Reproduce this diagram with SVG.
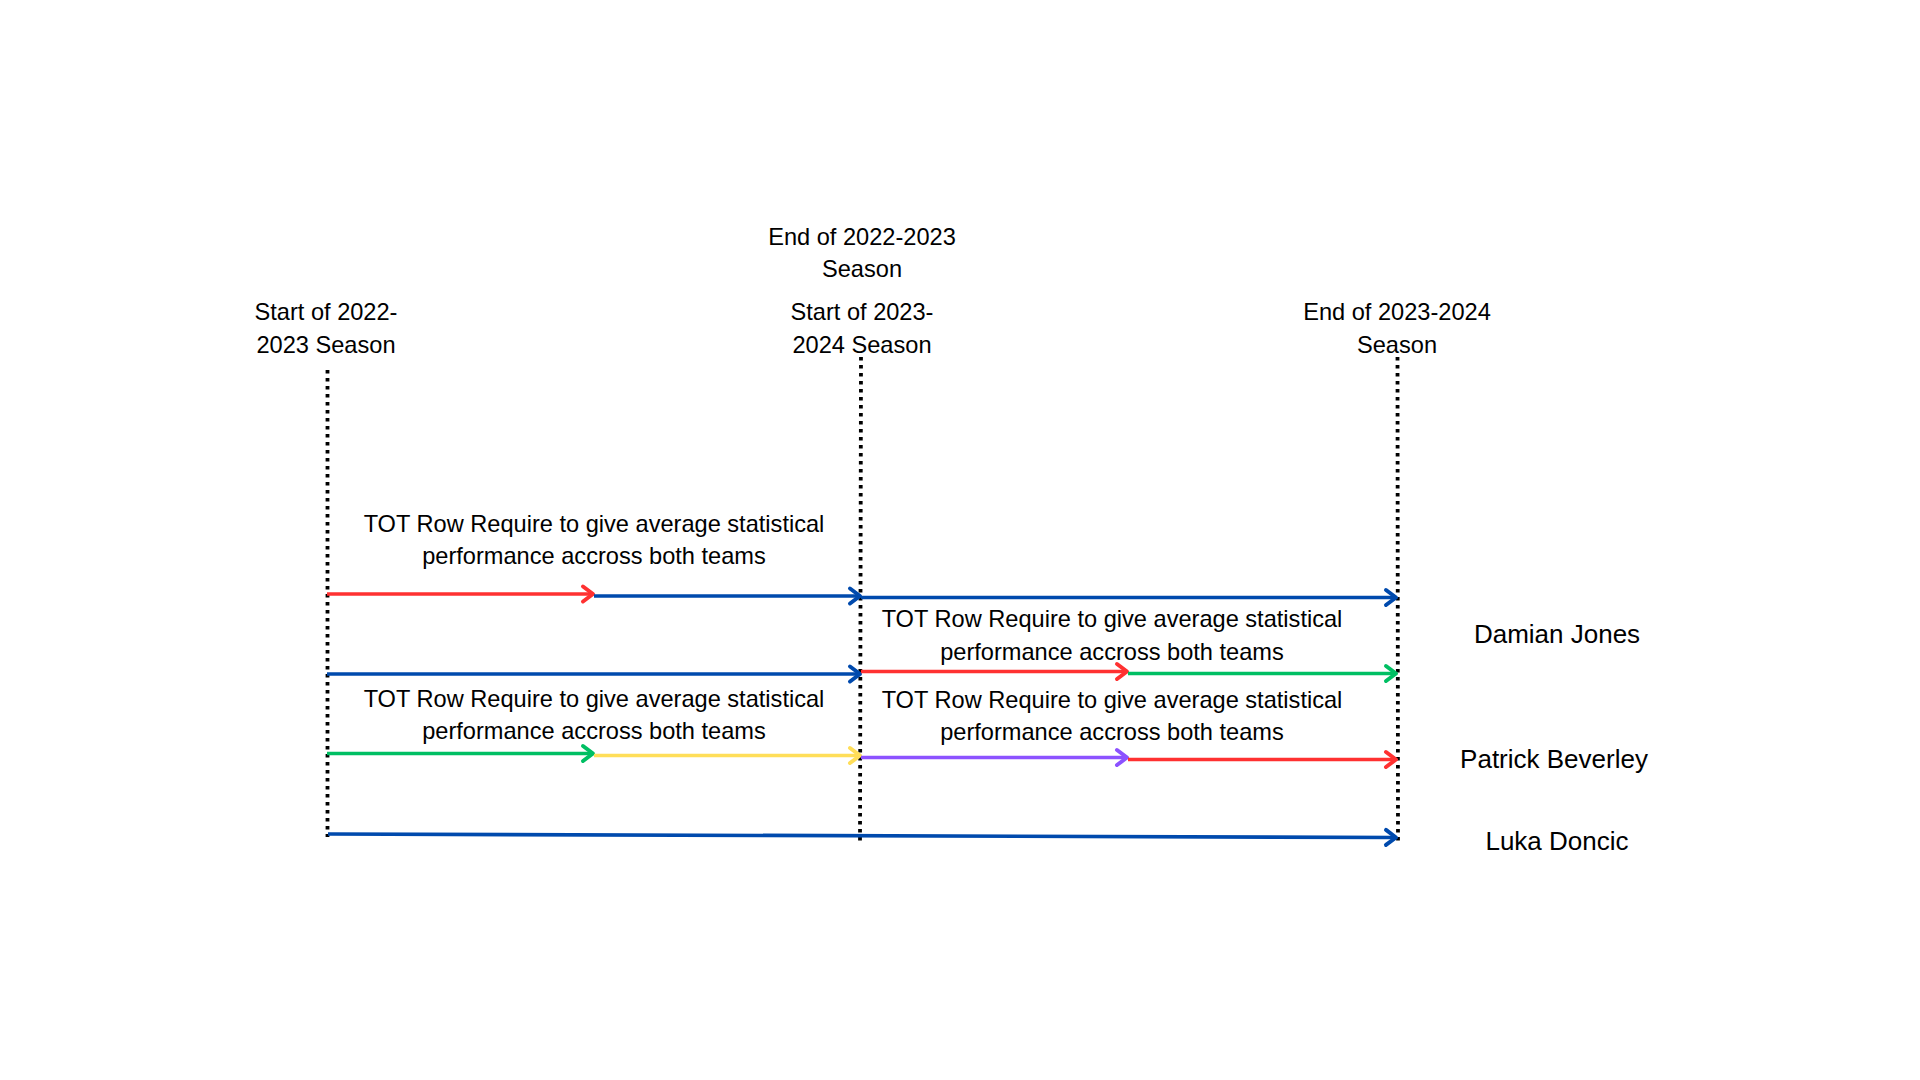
<svg xmlns="http://www.w3.org/2000/svg" width="1920" height="1080" viewBox="0 0 1920 1080">
<defs>
<style>
text{font-family:"Liberation Sans",Arial,Helvetica,sans-serif;fill:#000;text-anchor:middle}
.lbl{font-size:23.6px}
.name{font-size:26px}
.guide{stroke:#000;stroke-width:3.8;stroke-dasharray:3.6 4.4;fill:none}
.arr{stroke-width:3.6;fill:none;stroke-linecap:butt}
.red{stroke:#FF3131}
.blue{stroke:#004AAD}
.green{stroke:#00BF63}
.yellow{stroke:#FFDE59}
.purple{stroke:#8C52FF}
</style>
<marker id="mRed" markerUnits="userSpaceOnUse" viewBox="-14 -10 16 20" refX="0" refY="0" markerWidth="16" markerHeight="20" orient="auto" overflow="visible"><path d="M-10,-7.5 L0,0 L-10,7.5" fill="none" stroke="#FF3131" stroke-width="4" stroke-linecap="round" stroke-linejoin="round"/></marker>
<marker id="mBlue" markerUnits="userSpaceOnUse" viewBox="-14 -10 16 20" refX="0" refY="0" markerWidth="16" markerHeight="20" orient="auto" overflow="visible"><path d="M-10,-7.5 L0,0 L-10,7.5" fill="none" stroke="#004AAD" stroke-width="4" stroke-linecap="round" stroke-linejoin="round"/></marker>
<marker id="mGreen" markerUnits="userSpaceOnUse" viewBox="-14 -10 16 20" refX="0" refY="0" markerWidth="16" markerHeight="20" orient="auto" overflow="visible"><path d="M-10,-7.5 L0,0 L-10,7.5" fill="none" stroke="#00BF63" stroke-width="4" stroke-linecap="round" stroke-linejoin="round"/></marker>
<marker id="mYellow" markerUnits="userSpaceOnUse" viewBox="-14 -10 16 20" refX="0" refY="0" markerWidth="16" markerHeight="20" orient="auto" overflow="visible"><path d="M-10,-7.5 L0,0 L-10,7.5" fill="none" stroke="#FFDE59" stroke-width="4" stroke-linecap="round" stroke-linejoin="round"/></marker>
<marker id="mPurple" markerUnits="userSpaceOnUse" viewBox="-14 -10 16 20" refX="0" refY="0" markerWidth="16" markerHeight="20" orient="auto" overflow="visible"><path d="M-10,-7.5 L0,0 L-10,7.5" fill="none" stroke="#8C52FF" stroke-width="4" stroke-linecap="round" stroke-linejoin="round"/></marker>
</defs>
<rect width="1920" height="1080" fill="#fff"/>

<g id="guides">
<line class="guide" x1="327.5" y1="370" x2="327.5" y2="837"/>
<line class="guide" x1="861" y1="357" x2="860" y2="841"/>
<line class="guide" x1="1397.5" y1="357" x2="1398" y2="843"/>
</g>

<g id="connectors">
<line class="arr red" x1="327" y1="594" x2="593" y2="594" marker-end="url(#mRed)"/>
<line class="arr blue" x1="594" y1="596" x2="860" y2="596" marker-end="url(#mBlue)"/>
<line class="arr blue" x1="861" y1="597.5" x2="1396" y2="597.5" marker-end="url(#mBlue)"/>
<line class="arr blue" x1="327" y1="674" x2="860" y2="674" marker-end="url(#mBlue)"/>
<line class="arr red" x1="861" y1="671.5" x2="1127" y2="671.5" marker-end="url(#mRed)"/>
<line class="arr green" x1="1128" y1="673.5" x2="1396" y2="673.5" marker-end="url(#mGreen)"/>
<line class="arr green" x1="327" y1="753.5" x2="593" y2="753.5" marker-end="url(#mGreen)"/>
<line class="arr yellow" x1="594" y1="755.5" x2="860" y2="755.5" marker-end="url(#mYellow)"/>
<line class="arr purple" x1="861" y1="757.5" x2="1127" y2="757.5" marker-end="url(#mPurple)"/>
<line class="arr red" x1="1128" y1="759.5" x2="1396" y2="759.5" marker-end="url(#mRed)"/>
<line class="arr blue" x1="328" y1="834" x2="1396" y2="837.5" marker-end="url(#mBlue)"/>
</g>

<g id="label-start-2022">
<text class="lbl" x="326" y="320">Start of 2022-</text>
<text class="lbl" x="326" y="352.5">2023 Season</text>
</g>
<g id="label-end-2022">
<text class="lbl" x="862" y="244.5">End of 2022-2023</text>
<text class="lbl" x="862" y="277">Season</text>
</g>
<g id="label-start-2023">
<text class="lbl" x="862" y="320">Start of 2023-</text>
<text class="lbl" x="862" y="352.5">2024 Season</text>
</g>
<g id="label-end-2023">
<text class="lbl" x="1397" y="320">End of 2023-2024</text>
<text class="lbl" x="1397" y="352.5">Season</text>
</g>

<g id="note-1">
<text class="lbl" x="594" y="531.5">TOT Row Require to give average statistical</text>
<text class="lbl" x="594" y="564">performance accross both teams</text>
</g>
<g id="note-2">
<text class="lbl" x="1112" y="627.3">TOT Row Require to give average statistical</text>
<text class="lbl" x="1112" y="659.5">performance accross both teams</text>
</g>
<g id="note-3">
<text class="lbl" x="594" y="706.5">TOT Row Require to give average statistical</text>
<text class="lbl" x="594" y="739">performance accross both teams</text>
</g>
<g id="note-4">
<text class="lbl" x="1112" y="708">TOT Row Require to give average statistical</text>
<text class="lbl" x="1112" y="740.3">performance accross both teams</text>
</g>

<g id="name-damian">
<text class="name" x="1557" y="643.3">Damian Jones</text>
</g>
<g id="name-patrick">
<text class="name" x="1554" y="768.3">Patrick Beverley</text>
</g>
<g id="name-luka">
<text class="name" x="1557" y="850">Luka Doncic</text>
</g>
</svg>
